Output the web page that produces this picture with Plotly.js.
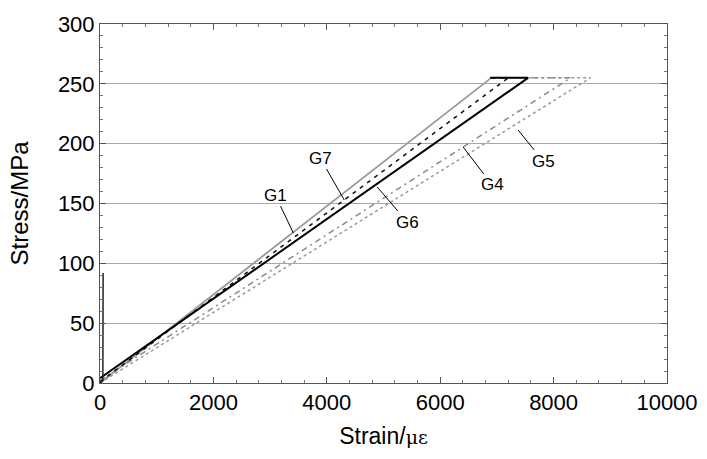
<!DOCTYPE html>
<html>
<head>
<meta charset="utf-8">
<script src="https://cdn.plot.ly/plotly-3.0.1.min.js"></script>
<style>html,body{margin:0;padding:0;background:#fff;}#chart{width:707px;height:459px;}</style>
</head>
<body>
<div id="chart"></div>
<script>
// Strain (με) and stress (MPa)
const g1Strain = [0, 6900, 6880];
const g1Stress = [0, 255, 255];
const g7Strain = [0, 7200, 6880];
const g7Stress = [1, 255, 255];
const g6Strain = [0, 7550, 6880];
const g6Stress = [4, 255, 255];
const g4Strain = [0, 8300, 6880];
const g4Stress = [2, 255, 255];
const g5Strain = [0, 8650, 6880];
const g5Stress = [0, 255, 255];
const g2Strain = [0, 50, 55];
const g2Stress = [0, 2, 92];

const xTicks = [0, 2000, 4000, 6000, 8000, 10000];
const xTickText = ['0', '2000', '4000', '6000', '8000', '10000'];
const yTicks = [0, 50, 100, 150, 200, 250, 300];
const yTickText = ['0', '50', '100', '150', '200', '250', '300'];

const labelNames = ['G1', 'G7', 'G6', 'G4', 'G5'];
const labelPointX = [3410, 4308, 4890, 6405, 7374];
const labelPointY = [125.3, 152.9, 163.8, 197.2, 211.4];
const labelTextX = [3092, 3885, 5419, 6916, 7815];
const labelTextY = [157, 188, 134.5, 165.5, 185.5];

const FONT = 'Liberation Sans, Arial, sans-serif';

const traces = [
  {x: g5Strain, y: g5Stress, mode: 'lines', line: {color: '#9a9a9a', width: 1.5, dash: 'dot'}},
  {x: g4Strain, y: g4Stress, mode: 'lines', line: {color: '#8a8a8a', width: 1.5, dash: '6px,4px,2px,4px'}},
  {x: g1Strain, y: g1Stress, mode: 'lines', line: {color: '#999999', width: 1.8}},
  {x: g7Strain, y: g7Stress, mode: 'lines', line: {color: '#111111', width: 1.5, dash: '4px,5px'}},
  {x: g6Strain, y: g6Stress, mode: 'lines', line: {color: '#000000', width: 2}},
  {x: g2Strain, y: g2Stress, mode: 'lines', line: {color: '#222222', width: 1.5}}
];

const annotations = labelNames.map((n, i) => ({
  x: labelPointX[i], y: labelPointY[i], xref: 'x', yref: 'y',
  ax: labelTextX[i], ay: labelTextY[i], axref: 'x', ayref: 'y',
  text: n, showarrow: true, arrowhead: 0, arrowwidth: 1, arrowcolor: '#000',
  font: {family: FONT, size: 17, color: '#000'}
}));

const axisCommon = {
  showline: true, linecolor: '#555', linewidth: 1, mirror: 'ticks',
  ticks: 'inside', ticklen: 6, tickwidth: 1, tickcolor: '#555',
  zeroline: false,
  tickfont: {family: FONT, size: 22, color: '#000'}
};

const layout = {
  width: 707, height: 459,
  margin: {l: 99.5, r: 40, t: 24, b: 76},
  paper_bgcolor: '#fff', plot_bgcolor: '#fff',
  showlegend: false,
  xaxis: Object.assign({}, axisCommon, {
    range: [0, 10000], tickvals: xTicks, ticktext: xTickText, showgrid: false,
    minor: {dtick: 400, ticks: 'inside', ticklen: 3, tickcolor: '#777', showgrid: false},
    title: {text: '\u00a0\u00a0Strain/<span style="font-family:DejaVu Serif;font-size:19px">με</span>', font: {family: FONT, size: 23, color: '#000'}, standoff: 13}
  }),
  yaxis: Object.assign({}, axisCommon, {
    range: [0, 300], tickvals: yTicks, ticktext: yTickText, showgrid: true, gridcolor: '#a8a8a8', gridwidth: 1,
    minor: {dtick: 10, ticks: 'inside', ticklen: 3, tickcolor: '#777', showgrid: false},
    title: {text: 'Stress/MPa\u00a0\u00a0\u00a0\u00a0\u00a0\u00a0\u00a0\u00a0\u00a0', font: {family: FONT, size: 24, color: '#000'}, standoff: 22}
  }),
  annotations: annotations
};

Plotly.newPlot('chart', traces, layout, {staticPlot: true, displayModeBar: false});
</script>
</body>
</html>
